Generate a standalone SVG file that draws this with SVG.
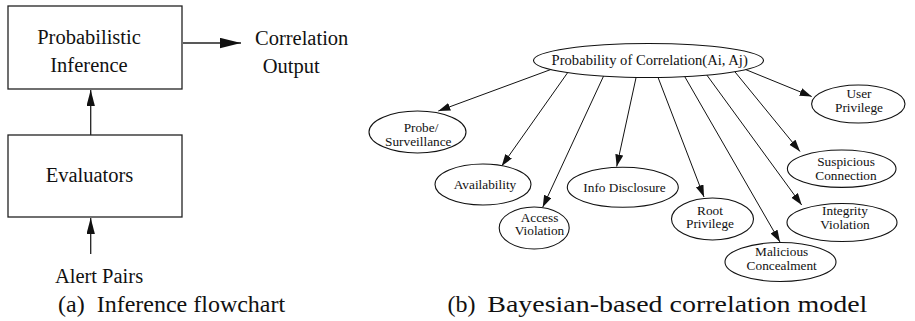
<svg xmlns="http://www.w3.org/2000/svg" width="915" height="321" viewBox="0 0 915 321" font-family="'Liberation Serif', 'DejaVu Serif', serif">
  <style>
    text { font-family: 'Liberation Serif', 'DejaVu Serif', serif; fill: #111; }
    .big { font-size: 20.5px; }
    .cap { font-size: 24px; }
    .lbl { font-size: 13.3px; text-anchor: middle; }
    .top { font-size: 14.6px; text-anchor: middle; }
    .box { fill: #fff; stroke: #222; stroke-width: 1.3; }
    .node { fill: #fff; stroke: #111; stroke-width: 1.1; }
    .flow { stroke: #222; stroke-width: 1.3; fill: none; }
    .edge { stroke: #111; stroke-width: 1; fill: none; marker-end: url(#head); }
  </style>
  <defs>
    <marker id="head" markerUnits="userSpaceOnUse" markerWidth="13" markerHeight="9" refX="12" refY="4" orient="auto">
      <path d="M0,0 L12,4 L0,8 z" fill="#111"/>
    </marker>
    <marker id="bighead" markerUnits="userSpaceOnUse" markerWidth="22" markerHeight="11" refX="21" refY="5.2" orient="auto">
      <path d="M0,0 L21,5.2 L0,10.4 z" fill="#111"/>
    </marker>
    <marker id="uphead" markerUnits="userSpaceOnUse" markerWidth="17" markerHeight="9" refX="16" refY="4.2" orient="auto">
      <path d="M0,0 L16,4.2 L0,8.4 z" fill="#111"/>
    </marker>
  </defs>

  <!-- (a) flowchart -->
  <g id="flow-connectors">
    <line class="flow" x1="90.7" y1="254" x2="90.7" y2="218" marker-end="url(#uphead)"/>
    <line class="flow" x1="90.7" y1="135" x2="90.7" y2="90" marker-end="url(#uphead)"/>
    <line class="flow" x1="183" y1="43" x2="241" y2="43" marker-end="url(#bighead)"/>
  </g>
  <g id="inference">
    <rect class="box" x="8" y="6" width="174" height="83"/>
    <text class="big" x="89" y="44" text-anchor="middle">Probabilistic</text>
    <text class="big" x="89" y="71.5" text-anchor="middle">Inference</text>
  </g>
  <g id="evaluators">
    <rect class="box" x="8" y="135" width="174" height="82"/>
    <text class="big" x="89.5" y="181.5" text-anchor="middle">Evaluators</text>
  </g>
  <g id="alert-pairs">
    <text class="big" x="99" y="282.5" text-anchor="middle">Alert Pairs</text>
  </g>
  <g id="correlation-output">
    <text class="big" x="255" y="45">Correlation</text>
    <text class="big" x="262.7" y="72.5">Output</text>
  </g>
  <text class="cap" x="58" y="311.5">(a)<tspan dx="12">Inference flowchart</tspan></text>

  <!-- (b) Bayesian model -->
  <g id="model-connectors">
    <line class="edge" x1="554.4" y1="68.2" x2="438.3" y2="111"/>
    <line class="edge" x1="574.1" y1="63.5" x2="501.7" y2="166"/>
    <line class="edge" x1="606.9" y1="68.9" x2="542.7" y2="207.3"/>
    <line class="edge" x1="638.1" y1="68.2" x2="616.7" y2="166.5"/>
    <line class="edge" x1="654.7" y1="68.7" x2="704" y2="197"/>
    <line class="edge" x1="680" y1="68.4" x2="780" y2="242"/>
    <line class="edge" x1="701.6" y1="67.9" x2="801.7" y2="205"/>
    <line class="edge" x1="728.7" y1="64.2" x2="800" y2="151.5"/>
    <line class="edge" x1="737.4" y1="66.2" x2="811.7" y2="96.5"/>
  </g>

  <g id="correlation">
    <ellipse class="node" cx="648.5" cy="60.5" rx="115" ry="17"/>
    <text class="top" x="649.7" y="65">Probability of Correlation(Ai, Aj)</text>
  </g>
  <g id="probe">
    <ellipse class="node" cx="417.5" cy="132" rx="48.5" ry="21"/>
    <text class="lbl" x="421" y="132">Probe/</text>
    <text class="lbl" x="418.3" y="145.5">Surveillance</text>
  </g>
  <g id="availability">
    <ellipse class="node" cx="483" cy="184.5" rx="48" ry="20.5"/>
    <text class="lbl" x="485" y="189">Availability</text>
  </g>
  <g id="access-violation">
    <ellipse class="node" cx="534.2" cy="228" rx="35" ry="21"/>
    <text class="lbl" x="539.5" y="221.5">Access</text>
    <text class="lbl" x="539.5" y="235">Violation</text>
  </g>
  <g id="info-disclosure">
    <ellipse class="node" cx="622.8" cy="187.3" rx="55.5" ry="20"/>
    <text class="lbl" x="624.5" y="192">Info Disclosure</text>
  </g>
  <g id="root-privilege">
    <ellipse class="node" cx="712.5" cy="219" rx="41" ry="21"/>
    <text class="lbl" x="710" y="214.5">Root</text>
    <text class="lbl" x="710" y="228.3">Privilege</text>
  </g>
  <g id="malicious-concealment">
    <ellipse class="node" cx="780.5" cy="262" rx="55.5" ry="19.5"/>
    <text class="lbl" x="781.7" y="256">Malicious</text>
    <text class="lbl" x="781.7" y="270">Concealment</text>
  </g>
  <g id="integrity-violation">
    <ellipse class="node" cx="842" cy="222.5" rx="55" ry="19"/>
    <text class="lbl" x="845" y="215">Integrity</text>
    <text class="lbl" x="845" y="228.7">Violation</text>
  </g>
  <g id="suspicious-connection">
    <ellipse class="node" cx="841.7" cy="168.7" rx="54.3" ry="18.7"/>
    <text class="lbl" x="846" y="166">Suspicious</text>
    <text class="lbl" x="846" y="180">Connection</text>
  </g>
  <g id="user-privilege">
    <ellipse class="node" cx="858.3" cy="104" rx="46.7" ry="19"/>
    <text class="lbl" x="859" y="98">User</text>
    <text class="lbl" x="859" y="111.7">Privilege</text>
  </g>
  <text class="cap" x="447.5" y="311.5">(b)<tspan x="487.3" textLength="380" lengthAdjust="spacingAndGlyphs">Bayesian-based correlation model</tspan></text>
</svg>
